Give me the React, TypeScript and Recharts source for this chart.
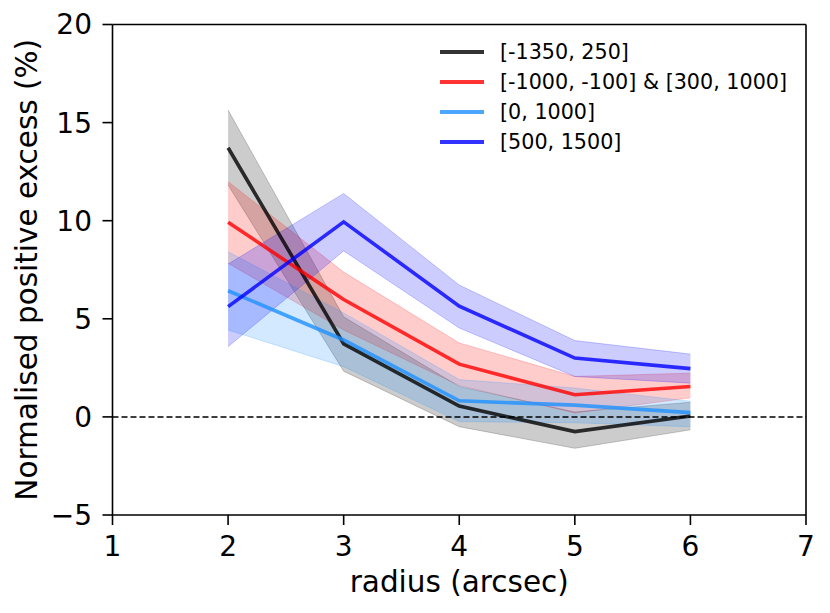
import {
  ComposedChart, Area, Line, XAxis, YAxis, ReferenceLine, Legend, Label,
} from 'recharts';

// radius in arcsec
const radius = [2, 3, 4, 5, 6];

// [-1350, 250]
const blackMid = [13.72, 3.72, 0.55, -0.75, 0.05];
const blackLow = [11.82, 2.33, -0.5, -1.6, -0.66];
const blackHigh = [15.64, 5.1, 1.55, 0.25, 0.75];

// [-1000, -100] & [300, 1000]
const redMid = [9.92, 5.98, 2.69, 1.13, 1.55];
const redLow = [7.83, 4.43, 1.6, 0.2, 0.97];
const redHigh = [11.99, 7.38, 3.77, 2.06, 2.23];

// [0, 1000]
const skyMid = [6.43, 3.92, 0.82, 0.6, 0.22];
const skyLow = [4.43, 2.56, -0.24, -0.3, -0.5];
const skyHigh = [8.42, 5.3, 1.9, 1.47, 0.8];

// [500, 1500]
const blueMid = [5.62, 9.94, 5.64, 3.0, 2.46];
const blueLow = [3.58, 8.46, 4.53, 2.06, 1.72];
const blueHigh = [7.79, 11.39, 6.72, 3.89, 3.2];

const xTicks = [1, 2, 3, 4, 5, 6, 7];
const yTicks = [-5, 0, 5, 10, 15, 20];

const series = [
  { key: 'black', name: '[-1350, 250]', color: '#000000', mid: blackMid, low: blackLow, high: blackHigh },
  { key: 'red', name: '[-1000, -100] & [300, 1000]', color: '#ff0000', mid: redMid, low: redLow, high: redHigh },
  { key: 'sky', name: '[0, 1000]', color: '#1e90ff', mid: skyMid, low: skyLow, high: skyHigh },
  { key: 'blue', name: '[500, 1500]', color: '#0000ff', mid: blueMid, low: blueLow, high: blueHigh },
];

const data = radius.map((r, i) => {
  const row: any = { r };
  series.forEach((s) => {
    row[s.key] = s.mid[i];
    row[s.key + 'Band'] = [s.low[i], s.high[i]];
  });
  return row;
});

const FONT = 'DejaVu Sans';
const fmt = (v: number) => (v < 0 ? '\u2212' + Math.abs(v) : String(v));

const LegendBox = () => (
  <div style={{ fontFamily: FONT, fontSize: 20.7, color: '#000' }}>
    {series.map((s) => (
      <div key={s.key} style={{ display: 'flex', alignItems: 'center', height: 29.8 }}>
        <span style={{ width: 44, height: 4, background: s.color, opacity: 0.8, marginRight: 16 }} />
        <span>{s.name}</span>
      </div>
    ))}
  </div>
);

export default function App() {
  return (
    <div style={{ position: 'absolute', left: 0, top: 0, background: '#fff' }}>
      <ComposedChart
        width={830}
        height={613}
        data={data}
        margin={{ top: 24.5, right: 24, bottom: 38, left: 52.5 }}
      >
        <XAxis
          type="number"
          dataKey="r"
          domain={[1, 7]}
          ticks={xTicks}
          height={60}
          tickSize={10}
          tickMargin={11}
          stroke="#000"
          axisLine={{ stroke: '#000', strokeWidth: 1.6 }}
          tickLine={{ stroke: '#000', strokeWidth: 1.6 }}
          tick={{ fill: '#000', fontSize: 28, fontFamily: FONT }}
        >
          <Label
            content={({ viewBox }: any) => (
              <text
                x={viewBox.x + viewBox.width / 2}
                y={592}
                textAnchor="middle"
                fontSize={29.5}
                fontFamily={FONT}
                fill="#000"
              >
                radius (arcsec)
              </text>
            )}
          />
        </XAxis>
        <YAxis
          type="number"
          domain={[-5, 20]}
          ticks={yTicks}
          width={60}
          tickSize={10}
          tickMargin={10.5}
          tickFormatter={fmt}
          allowDataOverflow
          stroke="#000"
          axisLine={{ stroke: '#000', strokeWidth: 1.6 }}
          tickLine={{ stroke: '#000', strokeWidth: 1.6 }}
          tick={{ fill: '#000', fontSize: 28, fontFamily: FONT }}
        >
          <Label
            content={({ viewBox }: any) => {
              const cy = viewBox.y + viewBox.height / 2;
              return (
                <text
                  x={37}
                  y={cy}
                  transform={`rotate(-90 37 ${cy})`}
                  textAnchor="middle"
                  fontSize={29.5}
                  fontFamily={FONT}
                  fill="#000"
                >
                  Normalised positive excess (%)
                </text>
              );
            }}
          />
        </YAxis>

        <ReferenceLine y={20} stroke="#000" strokeWidth={1.6} />
        <ReferenceLine x={7} stroke="#000" strokeWidth={1.6} />
        <ReferenceLine y={0} stroke="#000" strokeWidth={1.5} strokeDasharray="6 3" />

        {series.map((s) => [
          <Area
            key={s.key + 'Band'}
            type="linear"
            dataKey={s.key + 'Band'}
            fill={s.color}
            fillOpacity={0.2}
            stroke={s.color}
            strokeOpacity={0.2}
            strokeWidth={1}
            isAnimationActive={false}
            legendType="none"
          />,
          <Line
            key={s.key}
            type="linear"
            dataKey={s.key}
            name={s.name}
            stroke={s.color}
            strokeOpacity={0.8}
            strokeWidth={3.6}
            dot={false}
            activeDot={false}
            isAnimationActive={false}
          />,
        ])}

        <Legend
          layout="horizontal"
          verticalAlign="middle"
          align="center"
          width={380}
          wrapperStyle={{ top: 37.4, left: 440 }}
          content={() => <LegendBox />}
        />
      </ComposedChart>
    </div>
  );
}
